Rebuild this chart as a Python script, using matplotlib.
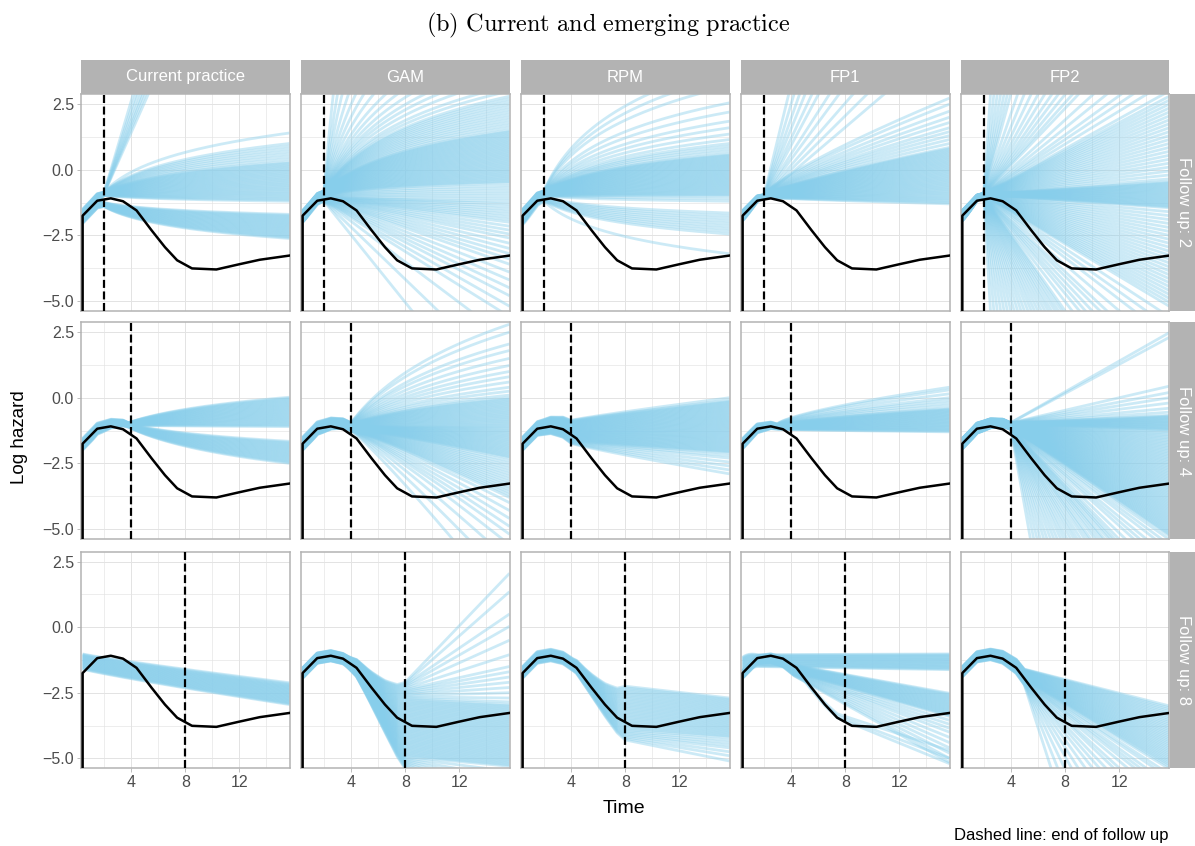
import numpy as np
import matplotlib
matplotlib.use("Agg")
import matplotlib.pyplot as plt
from matplotlib.patches import Rectangle

plt.rcParams['font.family'] = ['Liberation Sans', 'DejaVu Sans']
plt.rcParams['mathtext.fontset'] = 'cm'

# ---------------- data ----------------
MODELS = ["Current practice", "GAM", "RPM", "FP1", "FP2"]
FOLLOW_UPS = [2, 4, 8]
X_TICKS = [4, 8, 12]
X_MINOR = [2, 6, 10, 14]
Y_TICKS = [2.5, 0.0, -2.5, -5.0]
Y_MINOR = [1.25, -1.25, -3.75]
Y_TICK_LABELS = ["2.5", "0.0", "\u22122.5", "\u22125.0"]

# true log hazard (black line)
TRUE_T = [0.42, 0.42, 1.5, 2.5, 3.4, 4.4, 5.5, 6.5, 7.4, 8.5, 10.3, 12.0, 13.5, 15.7]
TRUE_LOGH = [-9.0, -1.75, -1.18, -1.09, -1.2, -1.55, -2.3, -2.95, -3.45, -3.76, -3.8, -3.6, -3.43, -3.27]

# extrapolated log hazard at the end of the time axis (t = 15.7), one value per simulated curve
cp2_up = [-1.2, -1.15, -1.1, -1.05, -1.0, -0.95, -0.9, -0.85, -0.8, -0.75, -0.7, -0.65, -0.6, -0.55,
          -0.5, -0.45, -0.4, -0.35, -0.3, -0.25, -0.2, -0.15, -0.1, -0.05, 0.0, 0.05, 0.1, 0.15, 0.2,
          0.25, 0.3, 0.4, 0.5, 0.6, 0.7, 0.8, 0.9, 1.0, 1.4]
cp2_steep = [15.0, 16.0, 17.0, 18.0, 19.5, 21.0, 23.0]
cp2_low = [-2.62, -2.58, -2.54, -2.5, -2.46, -2.42, -2.38, -2.34, -2.3, -2.26, -2.22, -2.18, -2.14,
           -2.1, -2.06, -2.02, -1.98, -1.94, -1.9, -1.86, -1.82, -1.78, -1.74, -1.7]
cp4_up = [-1.1, -1.06, -1.02, -0.98, -0.94, -0.9, -0.86, -0.82, -0.78, -0.74, -0.7, -0.66, -0.62,
          -0.58, -0.54, -0.5, -0.46, -0.42, -0.38, -0.34, -0.3, -0.26, -0.22, -0.18, -0.14, -0.1,
          -0.06, -0.02, 0.02]
cp4_low = [-2.5, -2.46, -2.42, -2.38, -2.34, -2.3, -2.26, -2.22, -2.18, -2.14, -2.1, -2.06, -2.02,
           -1.98, -1.94, -1.9, -1.86, -1.82, -1.78, -1.74, -1.7, -1.66]
cp8 = [-2.95, -2.92, -2.89, -2.86, -2.83, -2.8, -2.77, -2.74, -2.71, -2.68, -2.65, -2.62, -2.59,
       -2.56, -2.53, -2.5, -2.47, -2.44, -2.41, -2.38, -2.35, -2.32, -2.29, -2.26, -2.23, -2.2,
       -2.16, -2.12]

gam2_up = [25.0, 18.0, 14.0, 11.0, 9.0, 7.6, 6.5, 5.6, 5.0, 4.5, 4.1, 3.8, 3.5, 3.2, 3.0,
           2.8, 2.7, 2.6, 2.5, 2.4, 2.3, 2.2, 2.1, 2.0, 1.9, 1.8, 1.7, 1.6, 1.5, 1.45, 1.4, 1.35,
           1.3, 1.25, 1.2, 1.15, 1.1, 1.05, 1.0, 0.95, 0.9, 0.85, 0.8, 0.75, 0.7, 0.65, 0.6, 0.55,
           0.5, 0.45, 0.4, 0.35, 0.3, 0.25, 0.2, 0.15, 0.1, 0.05, 0.0, -0.05, -0.1, -0.15, -0.2,
           -0.25, -0.3, -0.35, -0.4, -0.45, -0.5, -0.6, -0.7, -0.8, -0.9, -1.0, -1.1, -1.2]
gam2_down = [-1.3, -1.4, -1.5, -1.6, -1.7, -1.8, -1.9, -2.0, -2.15, -2.3, -2.45, -2.6, -2.8, -3.0,
             -3.2, -3.4, -3.6, -3.9, -4.2, -4.5, -4.8, -5.2, -5.6, -6.5, -8.0, -10.0]
gam4_up = [2.8, 2.5, 2.05, 1.8, 1.5, 1.23, 1.0, 0.8, 0.6, 0.4, 0.25, 0.1, 0.0, -0.05, -0.1, -0.15,
           -0.2, -0.25, -0.3, -0.35, -0.4, -0.45, -0.5, -0.55, -0.6, -0.65, -0.7, -0.75, -0.8,
           -0.85, -0.9, -0.95, -1.0, -1.05, -1.1]
gam4_down = [-1.15, -1.2, -1.25, -1.3, -1.35, -1.4, -1.45, -1.5, -1.55, -1.6, -1.65, -1.7, -1.75,
             -1.8, -1.85, -1.9, -1.95, -2.0, -2.05, -2.1, -2.15, -2.2, -2.25, -2.3, -2.4, -2.5,
             -2.6, -2.7, -2.8, -2.9, -3.0, -3.1, -3.2, -3.3, -3.4, -3.5, -3.6, -3.7, -3.8, -4.0,
             -4.3, -4.6, -4.9, -5.2, -5.6, -6.2, -7.0, -8.0]
gam8 = [2.05, 1.35, 0.5, 0.03, -0.5, -1.05, -1.5, -1.7, -1.9, -2.1, -2.3, -2.5, -2.7, -2.85,
        -2.95, -3.0, -3.05, -3.1, -3.15, -3.2, -3.25, -3.3, -3.35, -3.4, -3.45, -3.5, -3.55, -3.6,
        -3.65, -3.7, -3.75, -3.8, -3.85, -3.9, -3.95, -4.0, -4.05, -4.1, -4.15, -4.2, -4.25, -4.3,
        -4.35, -4.4, -4.45, -4.5, -4.55, -4.6, -4.65, -4.7, -4.75, -4.8, -4.85, -4.9, -4.95, -5.0,
        -5.05, -5.1, -5.15, -5.2, -5.25, -5.3, -5.5, -5.75, -6.0, -6.3, -6.6, -7.0, -7.5, -8.0,
        -9.0, -10.0]

rpm2_up = [4.0, 3.6, 3.2, 2.55, 2.2, 1.85, 1.6, 1.36, 1.15, 1.0, 0.9, 0.8, 0.7, 0.6, 0.56, 0.52,
           0.48, 0.44, 0.4, 0.36, 0.32, 0.28, 0.24, 0.2, 0.16, 0.12, 0.08, 0.04, 0.0, -0.04, -0.08,
           -0.12, -0.16, -0.2, -0.24, -0.28, -0.32, -0.36, -0.4, -0.44, -0.48, -0.52, -0.56, -0.6,
           -0.64, -0.68, -0.72, -0.76, -0.8, -0.84, -0.88, -0.92, -0.96, -1.0, -1.1, -1.2]
rpm2_low = [-3.2, -2.45, -2.35, -2.25, -2.15, -2.05, -1.95, -1.85, -1.75, -1.65]
rpm4 = [-2.9, -2.75, -2.6, -2.45, -2.3, -2.2, -2.1, -2.06, -2.02, -1.98, -1.94, -1.9, -1.86, -1.82,
        -1.78, -1.74, -1.7, -1.66, -1.62, -1.58, -1.54, -1.5, -1.46, -1.42, -1.38, -1.34, -1.3,
        -1.26, -1.22, -1.18, -1.14, -1.1, -1.06, -1.02, -0.98, -0.94, -0.9, -0.86, -0.82, -0.78,
        -0.74, -0.7, -0.66, -0.62, -0.58, -0.54, -0.5, -0.46, -0.42, -0.38, -0.34, -0.3, -0.26,
        -0.22, -0.18, -0.14, -0.1, 0.0]
rpm8 = [-5.1, -4.9, -4.75, -4.6, -4.5, -4.4, -4.3, -4.2, -4.15, -4.1, -4.05, -4.0, -3.95, -3.9,
        -3.85, -3.8, -3.75, -3.7, -3.65, -3.6, -3.55, -3.5, -3.45, -3.4, -3.35, -3.3, -3.25, -3.2,
        -3.15, -3.1, -3.05, -3.0, -2.95, -2.9, -2.85, -2.8, -2.75, -2.7]

fp1_2_steep = [28.0, 22.9, 19.2, 16.5, 14.0, 12.2, 10.0, 8.6, 7.1, 6.0, 5.0]
fp1_2_fan = [2.73, 2.5, 2.23, 2.0, 1.8, 1.6, 1.45, 1.3, 1.15, 1.0, 0.85, 0.8, 0.75, 0.7, 0.65, 0.6,
             0.55, 0.5, 0.45, 0.4, 0.35, 0.3, 0.25, 0.2, 0.15, 0.1, 0.05, 0.0, -0.05, -0.1, -0.15,
             -0.2, -0.25, -0.3, -0.35, -0.4, -0.45, -0.5, -0.55, -0.6, -0.65, -0.7, -0.75, -0.8,
             -0.85, -0.9, -0.95, -1.0, -1.05, -1.1, -1.15, -1.2, -1.25, -1.3]
fp1_4 = [-1.3, -1.27, -1.24, -1.21, -1.18, -1.15, -1.12, -1.09, -1.06, -1.03, -1.0, -0.97, -0.94,
         -0.91, -0.88, -0.85, -0.82, -0.79, -0.76, -0.73, -0.7, -0.67, -0.64, -0.61, -0.58, -0.55,
         -0.52, -0.49, -0.46, -0.43, -0.4, -0.3, -0.2, -0.1, 0.0, 0.15, 0.3, 0.4]
fp1_8_flat = [-1.62, -1.59, -1.56, -1.53, -1.5, -1.47, -1.44, -1.41, -1.38, -1.35, -1.32, -1.29,
              -1.26, -1.23, -1.2, -1.17, -1.14, -1.11, -1.08, -1.05, -1.02]
fp1_8_down = [-5.15, -5.0, -4.8, -4.6, -4.4, -4.2, -4.0, -3.85, -3.7, -3.55, -3.4, -3.36, -3.32,
              -3.28, -3.24, -3.2, -3.16, -3.12, -3.08, -3.04, -3.0, -2.96, -2.92, -2.88, -2.84,
              -2.8, -2.76, -2.72, -2.68, -2.64, -2.6, -2.56, -2.52]
fp1_8_tail = [-5.2, -5.0, -4.7]

fp2_2 = [102.9, 68.3, 51.0, 40.6, 33.6, 28.7, 25.0, 19.8, 16.4, 13.9, 12.0, 10.6, 9.4, 8.5, 7.7,
         7.0, 6.5, 5.5, 4.8, 4.2, 3.8, 3.4, 3.0, 2.8, 2.65, 2.5, 2.35, 2.2, 2.05, 1.9, 1.75, 1.6,
         1.45, 1.3, 1.15, 1.0, 0.85, 0.7, 0.55, 0.4, 0.25, 0.1, -0.05, -0.2, -0.35, -0.45, -0.49,
         -0.53, -0.57, -0.61, -0.65, -0.69, -0.73, -0.77, -0.81, -0.85, -0.89, -0.93, -0.97, -1.01,
         -1.05, -1.09, -1.13, -1.17, -1.21, -1.25, -1.29, -1.33, -1.37, -1.41, -1.45, -1.6, -1.75,
         -1.9, -2.05, -2.2, -2.35, -2.5, -2.65, -2.8, -2.95, -3.1, -3.25, -3.4, -3.55, -3.7, -3.85,
         -4.0, -4.15, -4.3, -4.45, -4.6, -4.75, -4.9, -5.05, -5.2, -5.6, -6.0, -6.4, -7.0, -7.6,
         -8.0, -8.5, -9.0, -9.5, -10.2, -11.0, -11.4, -11.9, -12.4, -13.0, -13.6, -14.3, -15.1,
         -16.0, -17.0, -18.1, -19.4, -21.0, -22.8, -25.0, -27.7, -31.0, -35.3, -41.0, -49.0,
         -61.1, -81.1, -121.2]
fp2_4 = [2.48, 2.3, 0.44, 0.2, 0.0, -0.2, -0.4, -0.55, -0.67, -0.7, -0.73, -0.76, -0.79, -0.82,
         -0.85, -0.88, -0.91, -0.94, -0.97, -1.0, -1.03, -1.06, -1.09, -1.12, -1.15, -1.18, -1.21,
         -1.24, -1.3, -1.36, -1.42, -1.48, -1.54, -1.6, -1.66, -1.72, -1.78, -1.84, -1.9, -1.96,
         -2.02, -2.08, -2.14, -2.2, -2.26, -2.32, -2.38, -2.44, -2.5, -2.56, -2.62, -2.68, -2.74,
         -2.8, -2.86, -2.92, -2.98, -3.04, -3.1, -3.16, -3.22, -3.28, -3.34, -3.4, -3.46, -3.52,
         -3.58, -3.64, -3.7, -3.76, -3.82, -3.88, -3.94, -4.0, -4.06, -4.12, -4.18, -4.24, -4.3,
         -4.36, -4.42, -4.48, -4.54, -4.6, -4.66, -4.72, -4.78, -4.84, -4.9, -4.96, -5.02, -5.08,
         -5.14, -5.2, -5.26, -5.4, -5.6, -5.8, -6.1, -6.35, -6.6, -7.0, -7.35, -7.6, -7.8, -8.0,
         -8.3, -8.5, -8.8, -9.1, -9.5, -9.8, -10.2, -10.7, -11.2, -11.7, -12.3, -13.0, -13.7,
         -14.5, -15.5, -16.6, -17.9, -19.5, -21.3, -23.6, -26.4, -30.0, -34.9]
fp2_8 = [-3.0, -3.07, -3.14, -3.21, -3.28, -3.35, -3.42, -3.49, -3.56, -3.63, -3.7, -3.77, -3.84,
         -3.91, -3.98, -4.05, -4.12, -4.19, -4.26, -4.33, -4.4, -4.47, -4.54, -4.61, -4.68, -4.75,
         -4.82, -4.89, -4.96, -5.03, -5.1, -5.17, -5.24, -5.31, -5.4, -5.6, -5.75, -6.0, -6.2,
         -6.4, -6.7, -7.1, -7.4, -7.9, -8.4, -9.0, -9.8, -10.8, -12.0, -13.7, -16.0, -19.4]

T0, T1 = 0.42, 15.7
# group: (end values, knot time, knot value lo, knot value hi, shape, blend start, start offset lo, hi)
PANELS = {
    ("Current practice", 2): [(cp2_up, 2.0, -0.98, -0.85, 'log', T0, -0.25, 0.25),
                              (cp2_steep, 2.0, -0.92, -0.88, 1.0, T0, 0.0, 0.1),
                              (cp2_low, 2.0, -1.4, -1.25, 'log', T0, -0.3, 0.1)],
    ("Current practice", 4): [(cp4_up, 3.8, -1.05, -0.95, 'log', 1.0, -0.2, 0.2),
                              (cp4_low, 3.8, -1.12, -1.0, 'log', 1.0, -0.25, 0.1)],
    ("Current practice", 8): [(cp8, T0, -1.6, -1.02, 0.9, T0, 0.0, 0.0)],
    ("GAM", 2): [(gam2_up, 2.0, -1.0, -0.8, 'log', T0, -0.25, 0.2),
                 (gam2_down, 2.0, -1.2, -1.05, 1.0, T0, -0.25, 0.1)],
    ("GAM", 4): [(gam4_up, 4.0, -1.1, -0.95, 'log', 1.0, -0.2, 0.25),
                 (gam4_down, 4.0, -1.25, -1.1, 1.1, 1.0, -0.25, 0.1)],
    ("GAM", 8): [(gam8, 8.0, -5.4, -2.1, 1.0, 3.5, -0.2, 0.2)],
    ("RPM", 2): [(rpm2_up, 2.0, -1.0, -0.8, 'log', T0, -0.3, 0.25),
                 (rpm2_low, 2.0, -1.2, -1.05, 'log', T0, -0.35, 0.0)],
    ("RPM", 4): [(rpm4, 4.0, -1.74, -0.86, 0.9, 1.0, -0.25, 0.25)],
    ("RPM", 8): [(rpm8, 8.0, -4.3, -2.25, 1.0, 4.0, -0.2, 0.25)],
    ("FP1", 2): [(fp1_2_steep, 2.0, -1.02, -0.98, 1.0, T0, -0.1, 0.1),
                 (fp1_2_fan, 2.0, -1.05, -0.95, 0.8, T0, -0.2, 0.2)],
    ("FP1", 4): [(fp1_4, 3.0, -1.2, -1.0, 0.7, T0, -0.2, 0.2)],
    ("FP1", 8): [(fp1_8_flat, 1.5, -1.5, -1.05, 1.0, T0, 0.0, 0.6),
                 (fp1_8_down, 4.2, -1.85, -1.45, 1.0, 1.0, -0.2, 0.1),
                 (fp1_8_tail, 7.4, -3.45, -3.3, 1.0, 5.0, -0.1, 0.0)],
    ("FP2", 2): [(fp2_2, 2.0, -1.0, -0.9, 1.0, T0, -0.2, 0.2)],
    ("FP2", 4): [(fp2_4, 4.0, -1.2, -0.95, 1.0, 1.0, -0.2, 0.2)],
    ("FP2", 8): [(fp2_8, 5.0, -2.2, -1.6, 1.0, 2.0, -0.15, 0.25)],
}

# ---------------- styling ----------------
W, H = 1195, 846
BLUE = "#87CEEB"
STRIP = "#B3B3B3"
GRID = "#E3E3E3"
TICKTXT = "#4D4D4D"

COL_LEFT = [81, 301, 521, 741, 960.7]
COL_W = 208.5
ROW_TOP = [94.3, 322.3, 551.7]
ROW_H = 216.5

fig = plt.figure(figsize=(W / 100, H / 100), dpi=100)

t_grid = np.linspace(T0, T1, 320)
true_t = np.array(TRUE_T[1:])
true_y = np.array(TRUE_LOGH[1:])


def build_curves(group):
    ends, tk, yk_lo, yk_hi, shape, tb, d0_lo, d0_hi = group
    ends = np.asarray(ends, float)
    n = len(ends)
    order = np.argsort(np.argsort(ends))
    ranks = order / (n - 1) if n > 1 else np.full(n, 0.5)
    h = np.interp(t_grid, true_t, true_y)
    hk = np.interp(tk, true_t, true_y)
    curves = []
    for end, r in zip(ends, ranks):
        yk = yk_lo + (yk_hi - yk_lo) * r
        d0 = d0_lo + (d0_hi - d0_lo) * r
        dk = yk - hk
        y = np.empty_like(t_grid)
        pre = t_grid <= tk
        if tk > tb:
            w = np.clip((t_grid - tb) / (tk - tb), 0, 1) ** 1.5
        else:
            w = np.ones_like(t_grid)
        y[pre] = h[pre] + d0 + (dk - d0) * w[pre]
        post = ~pre
        if shape == 'log':
            g = np.log(t_grid / tk) / np.log(T1 / tk)
        else:
            g = np.clip((t_grid - tk) / (T1 - tk), 0, None) ** shape
        y[post] = yk + (end - yk) * g[post]
        curves.append(y)
    return curves


for ri, fu in enumerate(FOLLOW_UPS):
    for ci, model in enumerate(MODELS):
        rect = [COL_LEFT[ci] / W, 1 - (ROW_TOP[ri] + ROW_H) / H, COL_W / W, ROW_H / H]
        ax = fig.add_axes(rect)
        ax.set_xlim(0.3, 15.7)
        ax.set_ylim(-5.375, 2.875)
        ax.set_axisbelow(True)
        ax.set_xticks(X_TICKS)
        ax.set_xticks(X_MINOR, minor=True)
        ax.set_yticks(Y_TICKS)
        ax.set_yticks(Y_MINOR, minor=True)
        ax.grid(which='major', color=GRID, lw=0.7)
        ax.grid(which='minor', color=GRID, lw=0.45)
        for sp in ax.spines.values():
            sp.set_color(STRIP)
            sp.set_linewidth(1.1)
        ax.tick_params(which='both', color=STRIP, width=0.6, length=3, labelcolor=TICKTXT,
                       labelsize=11.5, pad=2)
        ax.tick_params(which='minor', length=0)
        if ri == 2:
            ax.set_xticklabels([str(v) for v in X_TICKS])
        else:
            ax.set_xticklabels([])
            ax.tick_params(axis='x', which='major', length=0)
        if ci == 0:
            ax.set_yticklabels(Y_TICK_LABELS)
        else:
            ax.set_yticklabels([])
            ax.tick_params(axis='y', which='major', length=0)

        for group in PANELS[(model, fu)]:
            for y in build_curves(group):
                ax.plot(t_grid, y, color=BLUE, alpha=0.42, lw=2.0, zorder=2,
                        solid_capstyle='butt')
        ax.plot(TRUE_T, TRUE_LOGH, color='black', lw=1.8, zorder=4)
        ax.axvline(fu, color='black', lw=1.6, ls=(0, (3.6, 1.6)), zorder=5)

# column strips
for ci, model in enumerate(MODELS):
    fig.patches.append(Rectangle((COL_LEFT[ci] / W, 1 - 94.3 / H), COL_W / W, 34.3 / H,
                                 transform=fig.transFigure, facecolor=STRIP, edgecolor='none'))
    fig.text((COL_LEFT[ci] + COL_W / 2) / W, 1 - 77 / H, model, color='white',
             fontsize=12, ha='center', va='center')
# row strips
for ri, fu in enumerate(FOLLOW_UPS):
    fig.patches.append(Rectangle((1170 / W, 1 - (ROW_TOP[ri] + ROW_H) / H), 25 / W, ROW_H / H,
                                 transform=fig.transFigure, facecolor=STRIP, edgecolor='none'))
    fig.text(1183 / W, 1 - (ROW_TOP[ri] + ROW_H / 2) / H, f"Follow up: {fu}", color='white',
             fontsize=12, ha='center', va='center', rotation=-90)

fig.text(608 / W, 1 - 25 / H, r"$\mathrm{(b)\ Current\ and\ emerging\ practice}$",
         fontsize=17.5, ha='center', va='center')
fig.text(624 / W, 1 - 808 / H, "Time", fontsize=14, ha='center', va='center')
fig.text(20 / W, 1 - 437 / H, "Log hazard", fontsize=13.5, ha='center', va='center', rotation=90)
fig.text(1168 / W, 1 - 835 / H, "Dashed line: end of follow up", fontsize=12, ha='right',
         va='center')

fig.savefig("out.png", dpi=100, facecolor='white')
